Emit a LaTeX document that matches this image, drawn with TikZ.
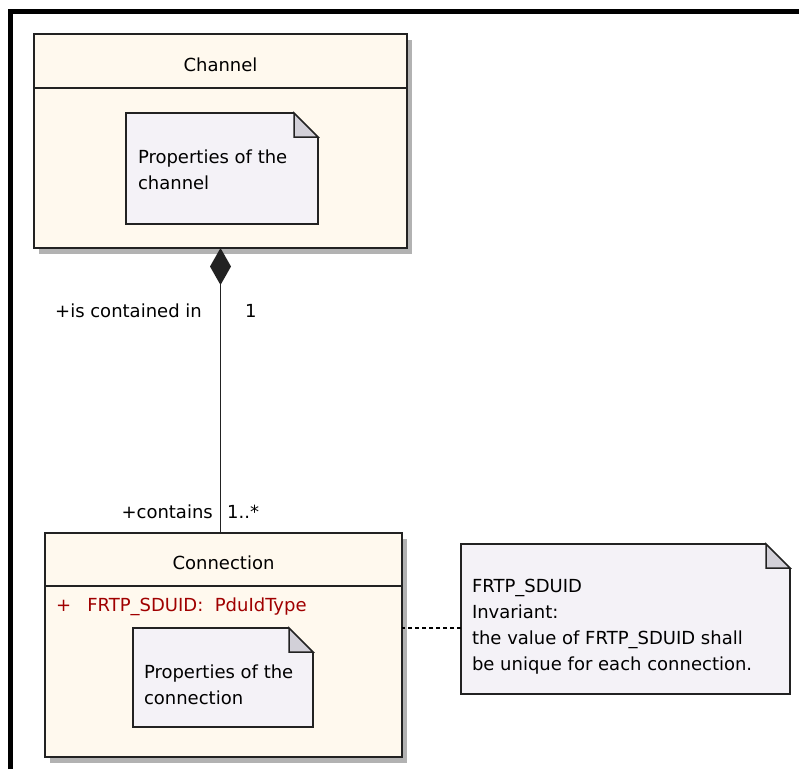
\documentclass[tikz,border=0pt]{standalone}
\usepackage{fontspec}
\setmainfont{DejaVu Sans}
\usetikzlibrary{positioning, shadows, arrows.meta}
\definecolor{classfill}{HTML}{FFF9EE}
\definecolor{notefill}{HTML}{F4F2F7}
\definecolor{foldfill}{HTML}{D2D0D8}
\definecolor{attrred}{HTML}{A00000}
\definecolor{edgegray}{HTML}{222222}

\tikzset{
    classbox/.style={rectangle, draw=edgegray, line width=1.8pt, fill=classfill,
        inner sep=0pt, outer sep=0pt, anchor=north west,
        drop shadow={shadow xshift=5pt, shadow yshift=-6pt, fill=black!30, opacity=1}},
    notebox/.style={rectangle, fill=notefill, inner sep=0pt, outer sep=0pt, anchor=north west},
    notetext/.style={inner sep=0pt, outer sep=0pt, align=left},
    lbl/.style={inner sep=0pt},
    composition/.style={line width=1.8pt, draw=edgegray,
        -{Diamond[length=37pt, width=21pt]}},
    notelink/.style={line width=1.2pt, dash pattern=on 4pt off 3pt},
}

% dog-eared outline of a note; #2 is the colour behind it
\newcommand{\dogear}[2]{%
    \fill[#2] ([xshift=-24pt]#1.north east) -- (#1.north east) -- ([yshift=-24pt]#1.north east) -- cycle;
    \draw[line width=1.5pt, draw=edgegray, fill=foldfill] ([xshift=-24pt]#1.north east)
        -- ([xshift=-24pt,yshift=-24pt]#1.north east) -- ([yshift=-24pt]#1.north east) -- cycle;
    \draw[line width=1.5pt, draw=edgegray] ([xshift=-24pt]#1.north east) -- (#1.north west)
        -- (#1.south west) -- (#1.south east) -- ([yshift=-24pt]#1.north east);
}

\begin{document}
\begin{tikzpicture}[x=1pt, y=-1pt, font=\fontsize{18}{26}\selectfont]
        \useasboundingbox (0,0) rectangle (799,769);
        \draw[line width=5pt] (10.5,769) -- (10.5,11.5) -- (799,11.5);

        % classes
        \node[classbox, minimum width=373pt, minimum height=214pt] (channel) at (34,34) {};
        \draw[line width=1.8pt, draw=edgegray] ([yshift=-54pt]channel.north west) -- ([yshift=-54pt]channel.north east);
        \node[lbl] (channeltitle) at (220.5,65) {Channel};

        \node[classbox, minimum width=357pt, minimum height=224pt] (connection) at (45,533) {};
        \draw[line width=1.8pt, draw=edgegray] ([yshift=-53pt]connection.north west) -- ([yshift=-53pt]connection.north east);
        \node[lbl] (connectiontitle) at (223.5,563) {Connection};
        \node[lbl, anchor=west, text=attrred] (sduidattr) at (56,607)
            {+\hspace{16pt}FRTP\_SDUID:\ \ PduIdType};

        % notes
        \node[notebox, minimum width=192pt, minimum height=111pt] (channelnote) at (126,113) {};
        \dogear{channelnote}{classfill}
        \node[notetext, below right=37pt and 12pt of channelnote.north west] (channelnotetext)
            {Properties of the\\channel};

        \node[notebox, minimum width=180pt, minimum height=99pt] (connectionnote) at (133,628) {};
        \dogear{connectionnote}{classfill}
        \node[notetext, below right=37pt and 11pt of connectionnote.north west] (connectionnotetext)
            {Properties of the\\connection};

        \node[notebox, minimum width=329pt, minimum height=150pt] (invnote) at (461,544) {};
        \dogear{invnote}{white}
        \node[notetext, below right=35pt and 11pt of invnote.north west] (invnotetext)
            {FRTP\_SDUID\\Invariant:\\the value of FRTP\_SDUID shall\\be unique for each connection.};

        % association
        \draw[composition] (channel.south |- connection.north) -- (channel.south);
        \node[lbl, anchor=east] (roleup) at (202,311) {+is contained in};
        \node[lbl, anchor=west] (multup) at (245,311) {1};
        \node[lbl, anchor=east] (roledown) at (213,512) {+contains};
        \node[lbl, anchor=west] (multdown) at (227,512) {1..*};

        \draw[notelink] ([yshift=-9pt]invnote.west) -- ([yshift=-9pt]invnote.west -| connection.east);
\end{tikzpicture}
\end{document}
